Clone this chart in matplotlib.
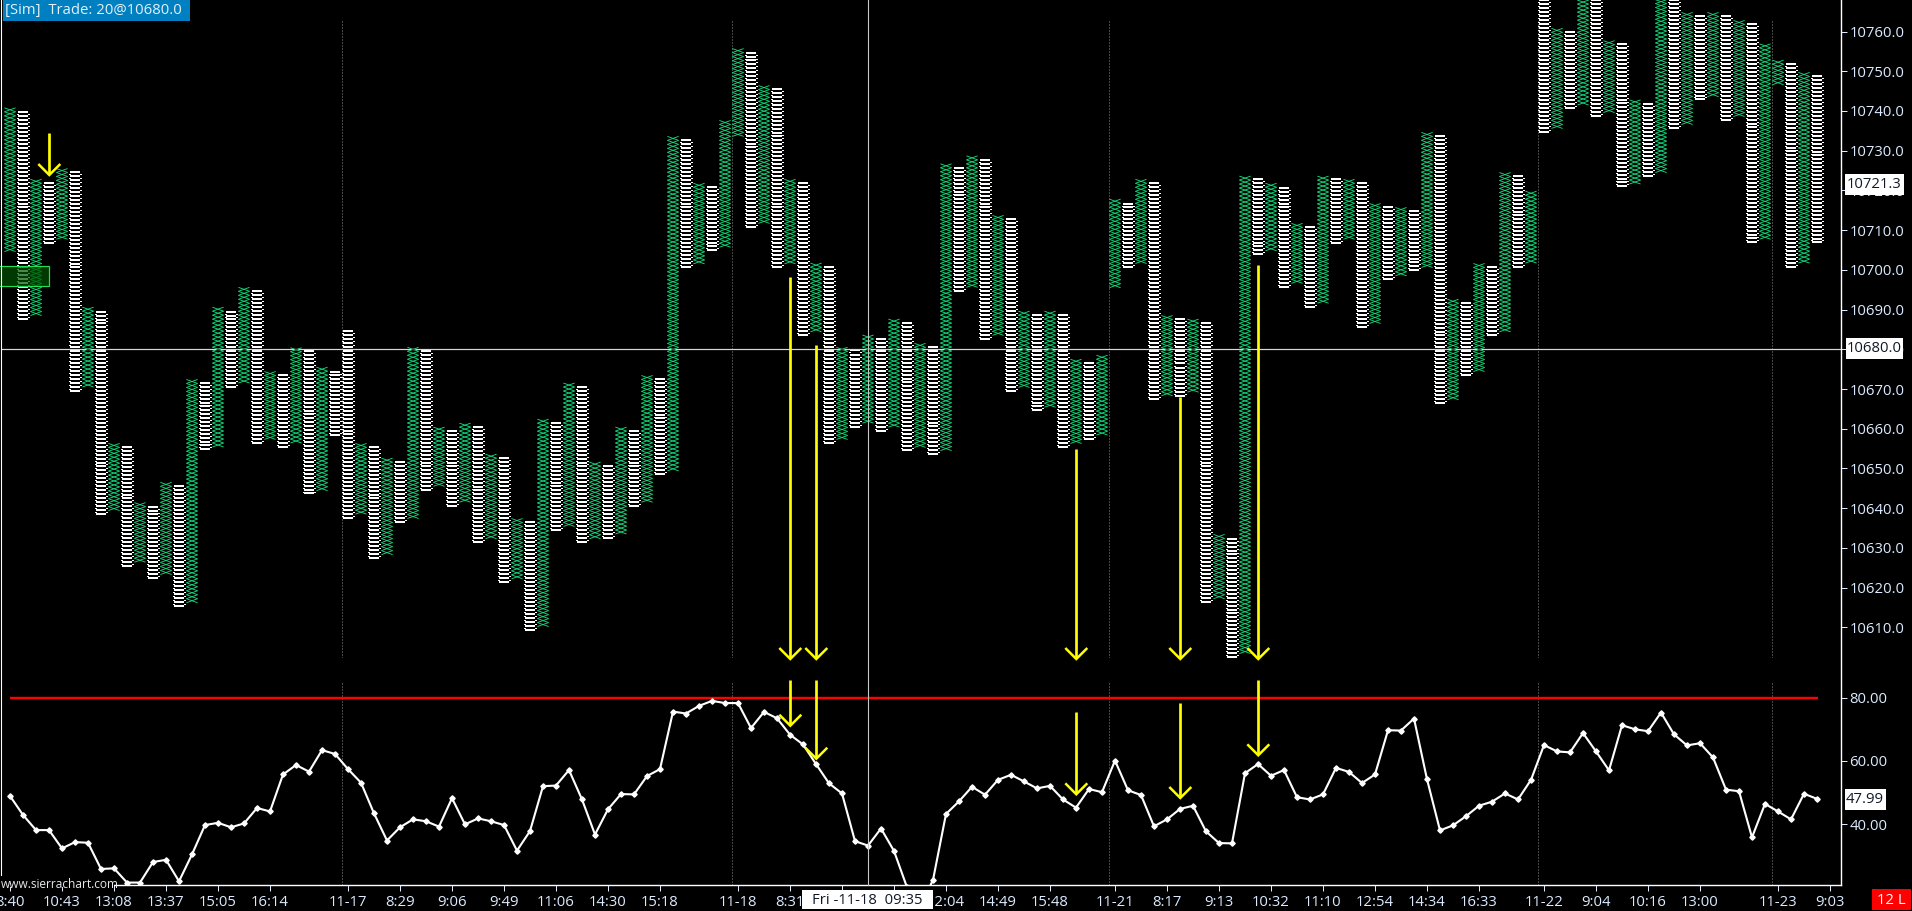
import numpy as np
import matplotlib
matplotlib.use("Agg")
import matplotlib.pyplot as plt
from matplotlib.collections import LineCollection
from matplotlib.patches import Rectangle

plt.rcParams["font.family"] = ["Open Sans", "DejaVu Sans"]

# point and figure columns, G = X column, W = O column
col_type = "GW" * 13 + "WG" * 15 + "GW" * 14 + "G" + "GW" * 16 + "G" + "WG" * 9 + "GWGW"
col_high = [
    10740.8, 10739.7, 10722.8, 10721.9, 10725.5, 10724.6, 10690.6, 10689.5, 10656.3, 10655.4,
    10641.4, 10640.4, 10646.5, 10645.5, 10672.4, 10671.5, 10690.6, 10689.5, 10695.6, 10694.6,
    10674.4, 10673.5, 10680.4, 10679.5, 10675.5, 10674.4, 10684.5, 10656.3, 10655.4, 10652.6,
    10651.6, 10680.5, 10679.5, 10660.4, 10659.4, 10661.4, 10660.4, 10653.6, 10652.6, 10637.4,
    10636.4, 10662.4, 10661.4, 10671.5, 10670.5, 10651.6, 10650.6, 10660.4, 10659.4, 10673.4,
    10672.5, 10733.6, 10732.6, 10721.8, 10720.8, 10737.6, 10755.7, 10754.7, 10746.4, 10745.5,
    10722.8, 10721.8, 10701.7, 10700.6, 10680.5, 10679.7, 10683.6, 10682.6, 10687.6, 10686.6,
    10681.5, 10680.5, 10726.7, 10725.7, 10728.7, 10727.7, 10713.7, 10712.8, 10689.6, 10688.6,
    10689.6, 10688.6, 10677.5, 10676.5, 10678.5, 10717.8, 10716.7, 10722.8, 10721.8, 10688.5,
    10687.6, 10687.6, 10686.5, 10633.4, 10632.3, 10723.6, 10722.8, 10721.8, 10720.7, 10711.7,
    10710.7, 10723.6, 10722.8, 10722.8, 10721.8, 10716.7, 10715.7, 10715.7, 10714.7, 10734.6,
    10733.7, 10692.6, 10691.6, 10701.6, 10700.6, 10724.5, 10723.6, 10719.8, 10775.0, 10760.8,
    10759.8, 10772.0, 10771.0, 10757.7, 10756.8, 10742.8, 10741.8, 10770.0, 10769.0, 10764.8,
    10763.8, 10764.8, 10763.8, 10762.8, 10761.8, 10756.9, 10752.8, 10751.8, 10749.7, 10748.7,
]
col_low = [
    10704.6, 10687.7, 10688.5, 10706.8, 10707.7, 10669.6, 10670.5, 10638.5, 10639.4, 10625.5,
    10626.4, 10622.5, 10623.3, 10615.4, 10616.2, 10654.8, 10655.4, 10670.6, 10671.5, 10656.5,
    10657.3, 10655.5, 10656.4, 10643.7, 10644.4, 10658.5, 10637.6, 10638.5, 10627.5, 10628.3,
    10636.6, 10637.4, 10644.5, 10645.5, 10640.6, 10641.5, 10631.5, 10632.3, 10621.5, 10622.2,
    10609.4, 10610.2, 10634.5, 10635.4, 10631.5, 10632.3, 10632.5, 10633.5, 10640.6, 10641.5,
    10648.7, 10649.4, 10700.8, 10701.5, 10704.9, 10705.7, 10733.6, 10710.9, 10711.7, 10700.8,
    10701.5, 10683.6, 10684.4, 10656.5, 10657.3, 10660.5, 10661.4, 10659.5, 10660.4, 10654.7,
    10655.3, 10653.6, 10654.5, 10694.8, 10695.6, 10682.7, 10683.5, 10669.6, 10670.4, 10664.6,
    10665.4, 10655.5, 10656.3, 10657.5, 10658.4, 10695.5, 10700.8, 10701.6, 10667.5, 10668.3,
    10668.3, 10669.2, 10616.5, 10617.2, 10602.6, 10603.4, 10703.9, 10704.8, 10695.7, 10696.6,
    10690.7, 10691.6, 10706.8, 10707.7, 10685.7, 10686.5, 10697.6, 10698.5, 10699.9, 10700.6,
    10666.4, 10667.3, 10673.5, 10674.4, 10683.7, 10684.4, 10700.8, 10701.7, 10734.8, 10735.6,
    10740.8, 10741.5, 10738.8, 10739.6, 10721.0, 10721.6, 10723.7, 10724.5, 10735.8, 10736.6,
    10742.9, 10743.6, 10737.8, 10738.6, 10706.9, 10707.7, 10746.6, 10700.8, 10701.7, 10706.9,
]
rsi = [
    48.9, 42.9, 38.1, 38.1, 32.3, 34.3, 34.1, 25.8, 26.0, 21.5,
    21.5, 28.0, 28.7, 21.9, 30.4, 39.7, 40.4, 39.0, 40.2, 45.1,
    44.0, 55.7, 58.7, 56.6, 63.4, 62.2, 57.4, 53.1, 43.4, 34.8,
    39.0, 41.5, 40.9, 39.2, 48.2, 39.9, 41.8, 40.9, 39.7, 31.6,
    37.8, 52.0, 52.2, 57.1, 47.8, 36.7, 44.7, 49.5, 49.4, 55.2,
    57.4, 75.6, 75.0, 77.4, 79.0, 78.3, 78.3, 70.4, 75.5, 73.5,
    68.3, 65.2, 59.0, 52.9, 49.7, 34.6, 33.2, 38.6, 31.5, 20.0,
    14.0, 22.3, 43.2, 47.2, 51.8, 49.3, 54.0, 55.6, 53.5, 51.3,
    52.1, 47.8, 45.2, 51.1, 50.1, 60.1, 50.7, 49.2, 39.3, 41.5,
    44.8, 45.8, 37.7, 34.0, 33.9, 56.1, 59.0, 55.3, 57.1, 48.5,
    47.8, 49.4, 57.8, 56.5, 53.0, 55.7, 69.7, 69.6, 73.4, 54.2,
    38.0, 39.6, 42.5, 45.8, 47.1, 49.7, 47.8, 54.0, 65.0, 63.0,
    62.7, 68.8, 63.0, 57.0, 71.3, 70.0, 69.4, 75.3, 68.4, 64.9,
    65.6, 61.1, 50.9, 50.4, 35.8, 46.4, 44.0, 41.5, 49.6, 47.99,
]
time_ticks = [0, 4, 8, 12, 16, 20, 26, 30, 34, 38, 42, 46, 50, 56, 60, 64, 68, 72, 76, 80,
              85, 89, 93, 97, 101, 105, 109, 113, 118, 122, 126, 130, 136, 140]
time_labels = ["8:40", "10:43", "13:08", "13:37", "15:05", "16:14", "11-17", "8:29", "9:06",
               "9:49", "11:06", "14:30", "15:18", "11-18", "8:31", "", "", "12:04", "14:49",
               "15:48", "11-21", "8:17", "9:13", "10:32", "11:10", "12:54", "14:34", "16:33",
               "11-22", "9:04", "10:16", "13:00", "11-23", "9:03"]
day_starts = [26, 56, 85, 118, 136]
price_ticks = list(range(10610, 10770, 10))
rsi_ticks = [40, 60, 80]
last_price = 10721.3
trade_price = 10680.0

GREEN = "#14E27F"
W, H = 1912, 911
BAR_STEP = 13
X0 = 10
LEFT, RIGHT = 2, 1841
PX_PER_POINT = 3.972
PRICE_Y = 349.3
PX_PER_RSI = 3.16
RSI_Y = 697.7
TXT = "#DCEBFF"
px = 1 / 100 * 72  # one pixel in points

fig = plt.figure(figsize=(W / 100, H / 100), dpi=100, facecolor="black")


def panel(top, bottom):
    a = fig.add_axes([LEFT / W, 1 - bottom / H, (RIGHT - LEFT) / W, (bottom - top) / H])
    a.set_facecolor("black")
    a.set_xlim((LEFT - X0) / BAR_STEP, (RIGHT - X0) / BAR_STEP)
    for s in a.spines.values():
        s.set_visible(False)
    a.yaxis.tick_right()
    return a


ax = panel(0, 658)
ax.set_ylim(trade_price - (658 - PRICE_Y) / PX_PER_POINT, trade_price + PRICE_Y / PX_PER_POINT)
ax.set_xticks([])
ax.set_yticks(price_ticks)
ax.set_yticklabels([f"{p:.1f}" for p in price_ticks])
ax.tick_params(axis="y", colors=TXT, length=4, width=px, pad=2, labelsize=10.7)

ax2 = panel(681, 885)
ax2.set_ylim(80 - (885 - RSI_Y) / PX_PER_RSI, 80 + (RSI_Y - 681) / PX_PER_RSI)
ax2.set_yticks(rsi_ticks)
ax2.set_yticklabels([f"{v:.2f}" for v in rsi_ticks])
ax2.set_xticks(time_ticks)
ax2.set_xticklabels(time_labels)
ax2.tick_params(axis="y", colors=TXT, length=4, width=px, pad=2, labelsize=10.7)
ax2.tick_params(axis="x", colors=TXT, length=4, width=px, pad=3, labelsize=10.7)
ax2.spines["bottom"].set_visible(True)
ax2.spines["bottom"].set_color("white")
ax2.spines["bottom"].set_linewidth(1.4 * px)

for d in day_starts:
    ax.axvline(d - 0.46, ymax=(658 - 21) / 658, color="#8c8c8c", lw=px, ls=(0, (1, 2)), zorder=1)
    ax2.axvline(d - 0.46, color="#8c8c8c", lw=px, ls=(0, (1, 2)), zorder=1)

# build the X and O glyphs row by row
x_segs, o_bars, o_sides = [], [], []
for i, (kind, hi, lo) in enumerate(zip(col_type, col_high, col_low)):
    n = max(int(round(hi - lo)), 1)
    rows = np.linspace(lo, hi, n + 1)
    if kind == "G":
        hw = 5.6 / BAR_STEP
        for a, b in zip(rows[:-1], rows[1:]):
            x_segs.append([(i - hw, a), (i + hw, b)])
            x_segs.append([(i - hw, b), (i + hw, a)])
    else:
        hw = 4.8 / BAR_STEP
        side = 5.6 / BAR_STEP
        for r in rows:
            o_bars.append([(i - hw, r), (i + hw, r)])
        for a, b in zip(rows[:-1], rows[1:]):
            m = (a + b) / 2
            o_sides.append([(i - side, m), (i - hw, m)])
            o_sides.append([(i + hw, m), (i + side, m)])

ax.add_collection(LineCollection(x_segs, colors=GREEN, linewidths=0.85 * px, antialiaseds=True, zorder=2))
ax.add_collection(LineCollection(o_bars, colors="white", linewidths=2 * px, antialiaseds=False, zorder=3))
ax.add_collection(LineCollection(o_sides, colors="white", linewidths=px, antialiaseds=False, zorder=3))

ax.axhline(trade_price, color="#d8d8d8", lw=1.2 * px, zorder=4)
# red dots where the last trade line crosses an X column
red = [[(i - 0.12, trade_price), (i + 0.12, trade_price)]
       for i, (k, hi, lo) in enumerate(zip(col_type, col_high, col_low))
       if k == "G" and lo < trade_price < hi]
ax.add_collection(LineCollection(red, colors="#c8103c", linewidths=1.2 * px, zorder=5))

bars = np.arange(len(rsi))
ax2.plot(bars, rsi, color="white", lw=2.1 * px, marker="D", ms=3.8 * px, mec="white", mfc="white", zorder=3)
ax2.plot([0, len(rsi) - 1 + 0.1], [80, 80], color="#FF0000", lw=2.4 * px, zorder=2, solid_capstyle="butt")

# everything below is screen furniture, placed in pixels
ov = fig.add_axes([0, 0, 1, 1], zorder=10)
ov.set_xlim(0, W)
ov.set_ylim(H, 0)
ov.axis("off")
ov.patch.set_alpha(0)

ov.plot([868, 868], [0, 885], color="#c8c8c8", lw=1.1 * px)
ov.plot([1841, 1841], [0, 885], color="white", lw=1.4 * px)
ov.plot([1, 1], [0, 875], color="white", lw=1.1 * px)

# yellow arrows (x, top, tip)
arrows = [(49.3, 133, 175), (790.3, 277, 659), (816.3, 345, 659), (1076.3, 449, 659),
          (1180.3, 397, 659), (1258.3, 265, 659), (790.3, 680, 725.7), (816.3, 680, 758.7),
          (1076.3, 712, 794.3), (1180.3, 703, 798), (1258.3, 680, 755.3)]
for x, top, tip in arrows:
    ov.plot([x, x], [top, tip - 1], color="#FFFF00", lw=2.7 * px, solid_capstyle="butt")
    ov.plot([x - 11, x, x + 11], [tip - 11, tip, tip - 11], color="#FFFF00", lw=2.5 * px,
            solid_joinstyle="miter", solid_capstyle="butt")

# entry box on the left
ov.add_patch(Rectangle((-2, 265.5), 51, 20, facecolor=(0, 0.33, 0, 0.7), edgecolor="#22DD55", lw=1.2 * px))

# label boxes
ov.add_patch(Rectangle((3, 0), 187, 21, facecolor="#0080C0", edgecolor="none"))
ov.text(5, 10.5, "[Sim]  Trade: 20@10680.0", color="#E4F0F8", fontsize=10.7, va="center", ha="left")

ov.add_patch(Rectangle((1845, 174), 59, 21, facecolor="white", edgecolor="none"))
ov.text(1847, 185, f"{last_price:.1f}", color="#101828", fontsize=10.7, va="center", ha="left")
ov.add_patch(Rectangle((1846, 338), 57, 20.5, facecolor="white", edgecolor="none"))
ov.text(1847, 349, f"{trade_price:.1f}", color="#101828", fontsize=10.7, va="center", ha="left")
ov.add_patch(Rectangle((1845, 789), 41, 20.5, facecolor="white", edgecolor="none"))
ov.text(1846, 799.5, f"{rsi[-1]:.2f}", color="#101828", fontsize=10.7, va="center", ha="left")

ov.add_patch(Rectangle((802, 890), 131, 19, facecolor="white", edgecolor="none"))
ov.text(867.5, 900, "Fri -11-18  09:35", color="#101828", fontsize=10.7, va="center", ha="center")

ov.add_patch(Rectangle((1872, 889), 39, 21, facecolor="#FF0000", edgecolor="none"))
ov.text(1891, 900, "12 L", color="white", fontsize=10.7, va="center", ha="center")

ov.add_patch(Rectangle((0, 876), 114, 11, facecolor="black", edgecolor="none"))
ov.text(1, 884, "www.sierrachart.com", color="#E8E8E8", fontsize=8.6, va="center", ha="left")

fig.savefig("out.png", dpi=100, facecolor="black")
